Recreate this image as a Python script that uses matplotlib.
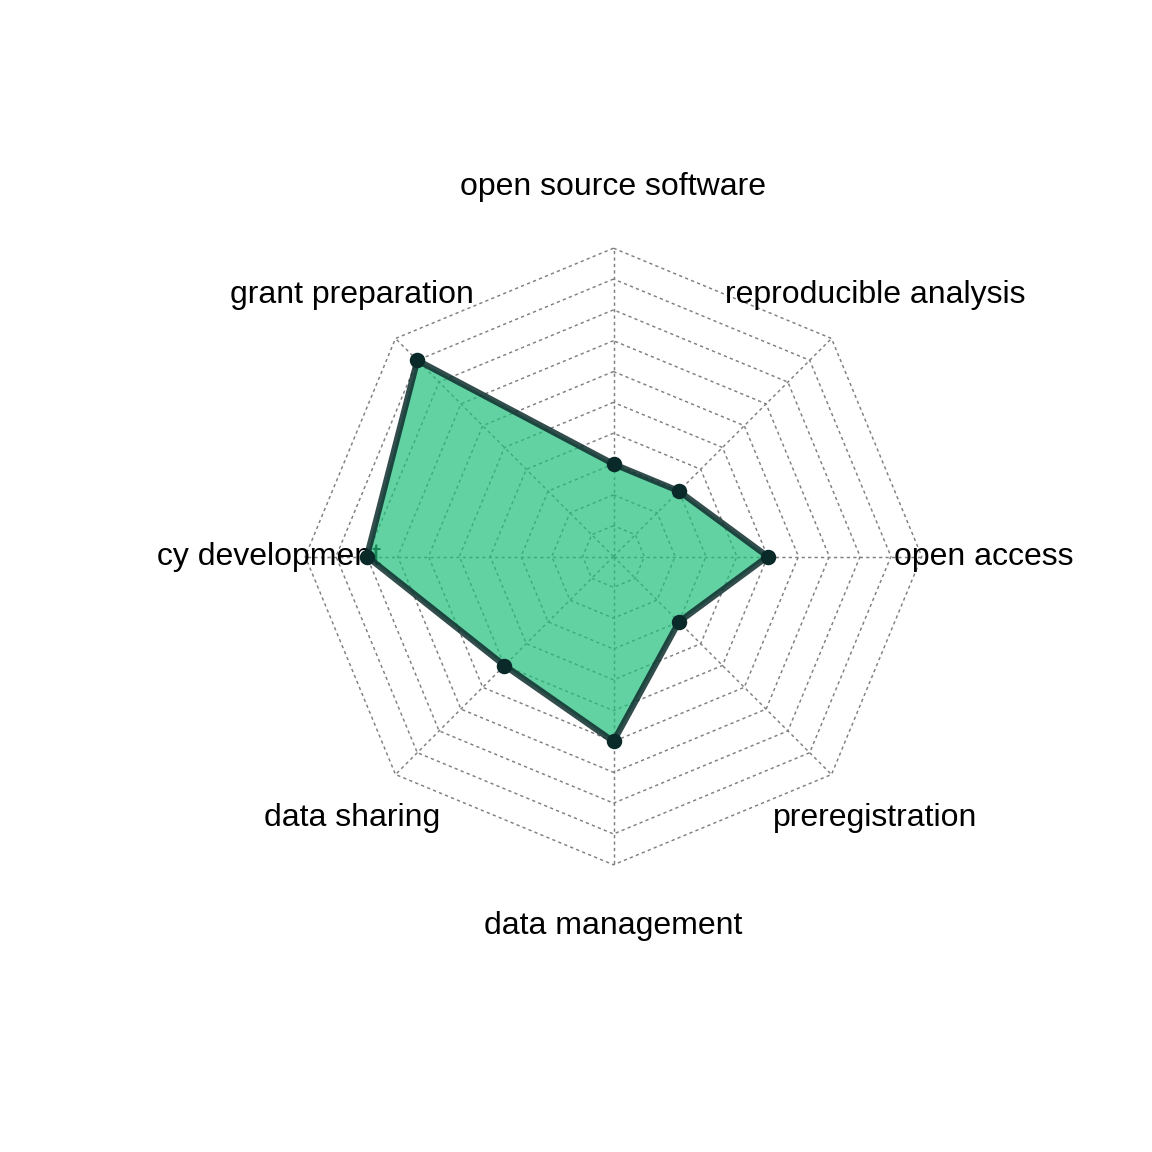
import matplotlib.pyplot as plt
import numpy as np

OUTPUT_FILENAME = "out.png"

# Axes in drawing order: top first, then counterclockwise
CATEGORIES = [
    "open source software",
    "grant preparation",
    "policy development",
    "data sharing",
    "data management",
    "preregistration",
    "open access",
    "reproducible analysis",
]
SCORES = [3, 9, 8, 5, 6, 3, 5, 3]
SCORE_MAX = 10
N_RINGS = 10

DPI = 192
SIZE_PX = 1152
UNIT_PX = 308.3  # pixels for radius 1


def main() -> None:
    fig = plt.figure(figsize=(SIZE_PX / DPI, SIZE_PX / DPI), dpi=DPI)
    plt.rcParams["font.family"] = ["Liberation Sans", "DejaVu Sans"]

    # R-like plot region (mar = 5.1, 4.1, 4.1, 2.1 lines); centre at (613, 556)
    left, right, top, bottom = 157.4, 1074.0, 157.4, 956.2
    cx, cy = 613.5, 556.5
    ax = fig.add_axes([left / SIZE_PX, 1 - bottom / SIZE_PX,
                       (right - left) / SIZE_PX, (bottom - top) / SIZE_PX])
    ax.set_xlim(-(cx - left) / UNIT_PX, (right - cx) / UNIT_PX)
    ax.set_ylim(-(bottom - cy) / UNIT_PX, (cy - top) / UNIT_PX)
    ax.axis("off")

    n = len(CATEGORIES)
    angles = np.pi / 2 + np.arange(n) * 2 * np.pi / n
    ux, uy = np.cos(angles), np.sin(angles)

    grid_style = dict(color="#808080", lw=0.55, linestyle=(0, (2.2, 2.2)), zorder=1)
    for i in range(1, N_RINGS + 1):
        r = i / N_RINGS
        ax.plot(np.append(ux, ux[0]) * r, np.append(uy, uy[0]) * r, **grid_style)
    for x, y in zip(ux, uy):
        ax.plot([0, x], [0, y], **grid_style)

    for label, x, y in zip(CATEGORIES, ux, uy):
        ax.text(1.2 * x, 1.2 * y, label, ha="center", va="center",
                fontsize=12, color="black", clip_on=True, zorder=2)

    r = np.array(SCORES) / SCORE_MAX
    px, py = ux * r, uy * r
    ax.fill(px, py, color="#20c07c", alpha=0.7, lw=0, zorder=3)
    ax.plot(np.append(px, px[0]), np.append(py, py[0]), color="#0f2e2e",
            alpha=0.85, lw=2.3, solid_joinstyle="miter", zorder=4)
    ax.plot(px, py, "o", color="#0a2a2a", markersize=4.8, zorder=5)

    plt.savefig(OUTPUT_FILENAME, dpi=DPI)


if __name__ == "__main__":
    main()
